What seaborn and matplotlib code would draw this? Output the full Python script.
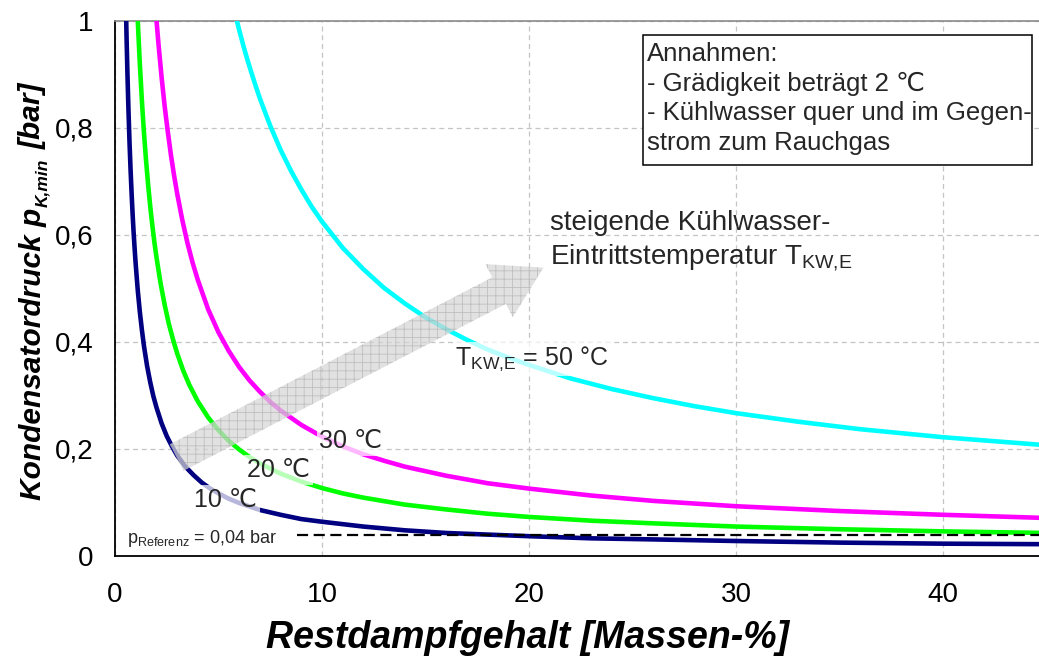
import matplotlib
matplotlib.use("Agg")
import matplotlib.pyplot as plt
import pandas as pd
import seaborn as sns

# Restdampfgehalt [Massen-%] and minimal condenser pressure [bar] per cooling-water inlet temperature
x_10 = [0.52, 0.56, 0.6, 0.65, 0.7, 0.75, 0.8, 0.85, 0.9, 0.95, 1.0, 1.1, 1.2, 1.3, 1.4, 1.55, 1.7,
        1.85, 2.0, 2.25, 2.5, 2.75, 3.0, 3.4, 3.8, 4.2, 4.6, 5.0, 5.5, 6, 7, 8, 9, 10, 12, 14, 16,
        18, 20, 23, 26, 30, 35, 40, 45]
p_10 = [1.039, 0.965, 0.902, 0.833, 0.774, 0.723, 0.679, 0.639, 0.604, 0.573, 0.545, 0.496, 0.456,
        0.422, 0.392, 0.355, 0.325, 0.299, 0.278, 0.248, 0.224, 0.205, 0.188, 0.167, 0.151, 0.137,
        0.126, 0.117, 0.107, 0.099, 0.086, 0.077, 0.069, 0.064, 0.055, 0.048, 0.043, 0.040, 0.037,
        0.033, 0.031, 0.028, 0.025, 0.023, 0.022]

x_20 = [1.05, 1.12, 1.2, 1.3, 1.4, 1.5, 1.6, 1.7, 1.8, 1.9, 2.0, 2.2, 2.4, 2.6, 2.8, 3.0, 3.3, 3.6,
        4.0, 4.5, 5.0, 5.5, 6, 6.5, 7, 8, 9, 10, 11, 12, 14, 16, 18, 20, 23, 26, 30, 35, 40, 45]
p_20 = [1.048, 0.983, 0.919, 0.850, 0.790, 0.739, 0.694, 0.654, 0.619, 0.587, 0.559, 0.510, 0.469,
        0.434, 0.405, 0.379, 0.346, 0.319, 0.289, 0.259, 0.235, 0.215, 0.199, 0.185, 0.173, 0.154,
        0.139, 0.127, 0.117, 0.109, 0.096, 0.087, 0.079, 0.073, 0.066, 0.061, 0.055, 0.050, 0.046,
        0.043]

x_30 = [1.9, 2.0, 2.1, 2.25, 2.4, 2.55, 2.7, 2.85, 3.0, 3.25, 3.5, 3.75, 4.0, 4.5, 5.0, 5.5, 6,
        6.5, 7, 7.5, 8, 9, 10, 11, 12, 13, 14, 16, 18, 20, 23, 26, 30, 35, 40, 45]
p_30 = [1.054, 1.003, 0.957, 0.895, 0.840, 0.793, 0.750, 0.712, 0.678, 0.628, 0.585, 0.548, 0.516,
        0.461, 0.418, 0.383, 0.353, 0.328, 0.307, 0.288, 0.272, 0.245, 0.223, 0.205, 0.190, 0.178,
        0.167, 0.150, 0.136, 0.126, 0.113, 0.103, 0.093, 0.084, 0.077, 0.071]

x_50 = [5.8, 6.0, 6.2, 6.4, 6.6, 6.8, 7.0, 7.5, 8.0, 8.5, 9, 9.5, 10, 11, 12, 13, 14, 15, 16, 17,
        18, 19, 20, 22, 24, 26, 28, 30, 33, 36, 40, 45]
p_50 = [1.014, 0.983, 0.954, 0.927, 0.902, 0.878, 0.855, 0.804, 0.759, 0.720, 0.685, 0.653, 0.625,
        0.576, 0.536, 0.501, 0.472, 0.446, 0.424, 0.404, 0.386, 0.371, 0.357, 0.332, 0.312, 0.295,
        0.280, 0.267, 0.251, 0.237, 0.222, 0.207]

temperatures = ["10", "20", "30", "50"]
colors = ["#000080", "#00ff00", "#ff00ff", "#00ffff"]

p_referenz = 0.04
x_referenz_start = 8.8

x_ticks = [0, 10, 20, 30, 40]
y_ticks = [0, 0.2, 0.4, 0.6, 0.8, 1.0]
y_ticklabels = ["0", "0,2", "0,4", "0,6", "0,8", "1"]

frames = []
for t, xs, ps in zip(temperatures, [x_10, x_20, x_30, x_50], [p_10, p_20, p_30, p_50]):
    frames.append(pd.DataFrame({"Restdampfgehalt": xs, "Druck": ps, "T": t}))
df = pd.concat(frames, ignore_index=True)

sns.set_style("white")
plt.rcParams["font.family"] = ["Liberation Sans", "DejaVu Sans"]
plt.rcParams["mathtext.fontset"] = "custom"
plt.rcParams["mathtext.rm"] = "Liberation Sans"
plt.rcParams["hatch.linewidth"] = 0.6

fig = plt.figure(figsize=(10.39, 6.6), dpi=100)
ax = fig.add_axes([0.1107, 0.1576, 0.8893, 0.8106])

sns.lineplot(data=df, x="Restdampfgehalt", y="Druck", hue="T", hue_order=temperatures,
             palette=colors, estimator=None, sort=False, linewidth=3.3, legend=False, ax=ax,
             zorder=3)

# reference pressure
ax.plot([x_referenz_start, 45], [p_referenz, p_referenz], color="black", lw=1.6,
        ls=(0, (5, 2.5)), zorder=4)
ax.text(0.56, 0.024, r"p$_{\mathrm{Referenz}}$ = 0,04 bar", fontsize=13, ha="left",
        va="baseline", zorder=6)

ax.set_xlim(0, 44.64)
ax.set_ylim(0, 1)
ax.set_xticks(x_ticks)
ax.set_yticks(y_ticks)
ax.set_yticklabels(y_ticklabels)
ax.set_xlabel("")
ax.set_ylabel("")
ax.tick_params(axis="both", direction="out", length=6.5, width=1, labelsize=20,
               colors="black")
ax.tick_params(axis="x", pad=12)
ax.tick_params(axis="y", pad=9)

ax.grid(True, ls=(0, (4, 3)), color="#c4c4c4", lw=0.9, zorder=0)
ax.set_axisbelow(True)
for side in ["left", "bottom"]:
    ax.spines[side].set_color("black")
    ax.spines[side].set_linewidth(1.3)
ax.spines["top"].set_color("#8a8a8a")
ax.spines["top"].set_linewidth(1.2)
ax.spines["right"].set_visible(False)

# curve labels
label_box = dict(facecolor=(1, 1, 1, 0.72), edgecolor="none", pad=2)
ax.text(5.35, 0.092, "10 ℃", fontsize=18, ha="center", va="baseline", bbox=label_box, zorder=5)
ax.text(7.9, 0.148, "20 ℃", fontsize=18, ha="center", va="baseline", bbox=label_box, zorder=5)
ax.text(11.4, 0.201, "30 ℃", fontsize=18, ha="center", va="baseline", bbox=label_box, zorder=5)
ax.text(20.15, 0.357, r"T$_{\mathrm{KW{,}E}}$ = 50 °C", fontsize=18, ha="center",
        va="baseline", bbox=label_box, zorder=5)

# trend arrow
ax.annotate("", xy=(20.7, 0.539), xytext=(2.98, 0.184),
            arrowprops=dict(arrowstyle="simple,head_length=3.6,head_width=4.3,tail_width=2.15",
                            mutation_scale=10, shrinkA=0, shrinkB=0,
                            facecolor=(0.84, 0.84, 0.84, 0.72),
                            edgecolor=(0.64, 0.64, 0.64, 0.55), linewidth=0, hatch="++"),
            zorder=7)
ax.text(21.0, 0.647,
        "steigende Kühlwasser-\nEintrittstemperatur T$_{\\mathrm{KW{,}E}}$",
        fontsize=20, ha="left", va="top", linespacing=1.33, zorder=6)

# assumptions box
fig.patches.append(plt.Rectangle((643 / 1039, 1 - 165 / 660), (1032 - 643) / 1039,
                                 (165 - 35) / 660, transform=fig.transFigure,
                                 facecolor="white", edgecolor="black", lw=1.1, zorder=8))
fig.text(647 / 1039, 1 - 42 / 660,
         "Annahmen:\n- Grädigkeit beträgt 2 ℃\n- Kühlwasser quer und im Gegen-\nstrom zum Rauchgas",
         fontsize=18.5, ha="left", va="top", linespacing=1.29, zorder=9)

# axis titles
title_font = dict(fontweight="bold", fontstyle="italic", color="black")
fig.text(528 / 1039, 1 - 638 / 660, "Restdampfgehalt [Massen-%]", fontsize=27,
         ha="center", va="center", **title_font)

# y title assembled from pieces so the subscript can be set smaller
renderer = fig.canvas.get_renderer()
y_main = fig.text(41 / 1039, 1 - 500 / 660, "Kondensatordruck p", fontsize=21.5,
                  rotation=90, rotation_mode="anchor", ha="left", va="baseline", **title_font)
top_main = y_main.get_window_extent(renderer).y1
y_sub = fig.text(47 / 1039, (top_main + 1) / 660, "K,min", fontsize=12.5,
                 rotation=90, rotation_mode="anchor", ha="left", va="baseline", **title_font)
top_sub = y_sub.get_window_extent(renderer).y1
fig.text(41 / 1039, (top_sub + 9) / 660, "[bar]", fontsize=21.5,
         rotation=90, rotation_mode="anchor", ha="left", va="baseline", **title_font)

fig.savefig("out.png", dpi=100)
